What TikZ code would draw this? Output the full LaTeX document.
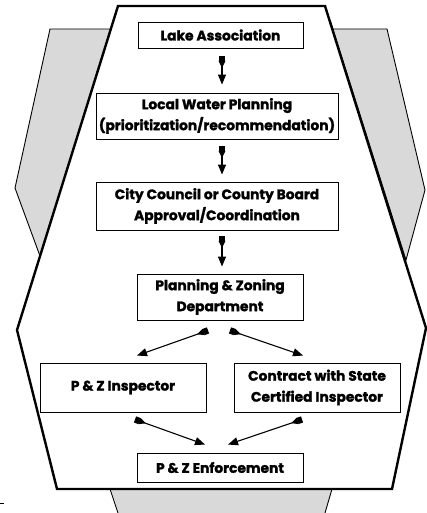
\documentclass[tikz,border=0pt]{standalone}
\usepackage{fontspec}
\newfontfamily\boxfont{Poppins}[BoldFeatures={FakeBold=1.6}]
\usetikzlibrary{arrows.meta}

\begin{document}
\begin{tikzpicture}[x=1pt,y=-1pt,
  stepbox/.style={draw,line width=0.9pt,fill=white,align=center,inner sep=0pt,
    font=\boxfont\bfseries\fontsize{13.8}{21}\selectfont},
  flow/.style={line width=1.1pt,
    arrows={Square[length=4.5pt,width=6.5pt]Stealth[reversed,length=7pt,width=6.5pt,inset=0pt]-Triangle[length=10pt,width=8pt]}}]
\useasboundingbox (0,0) rectangle (427,513);

\draw[fill=gray!30,line width=0.9pt] (50,29) -- (112,29) -- (40,256) -- (15,188) -- cycle;
\draw[fill=gray!30,line width=0.9pt] (333,29) -- (387,29) -- (425,190) -- (406,260) -- (330,20) -- cycle;
\fill[gray!30] (110,489) -- (332,489) -- (325,513) -- (118,513) -- cycle;
\draw[line width=0.9pt] (110,489) -- (118,513);
\draw[line width=0.9pt] (332,489) -- (325,513);
\draw[line width=0.9pt] (0,503) -- (4,503);

\draw[fill=white,line width=2.4pt,line join=miter]
  (118,6) -- (325,6) -- (426,328) -- (392,489) -- (57,489) -- (17,330) -- cycle;

\node[stepbox,minimum width=165pt,minimum height=26pt] (lake) at (220.5,35) {Lake Association};
\node[stepbox,minimum width=242pt,minimum height=46pt] (lwp) at (217,116)
  {Local Water Planning\\(prioritization/recommendation)};
\node[stepbox,minimum width=242pt,minimum height=48pt] (council) at (217,206)
  {City Council or County Board\\Approval/Coordination};
\node[stepbox,minimum width=166pt,minimum height=46pt] (pz) at (220,297)
  {Planning \& Zoning\\Department};
\node[stepbox,minimum width=166pt,minimum height=49pt] (insp) at (123,387.5) {P \& Z Inspector};
\node[stepbox,minimum width=166pt,minimum height=49pt] (contract) at (317,387.5)
  {Contract with State\\Certified Inspector};
\node[stepbox,minimum width=166pt,minimum height=29pt] (enf) at (220,467.5) {P \& Z Enforcement};

\draw[flow] ([xshift=1.5pt,yshift=-8pt]lake.south) -- ([xshift=5pt,yshift=8pt]lwp.north);
\draw[flow] ([xshift=5pt,yshift=-7pt]lwp.south) -- ([xshift=5pt,yshift=7pt]council.north);
\draw[flow] ([xshift=5pt,yshift=-6pt]council.south) -- ([xshift=2pt,yshift=7pt]pz.north);
\draw[flow] ([xshift=-12pt,yshift=-10pt]pz.south) -- ([xshift=14pt,yshift=7pt]insp.north);
\draw[flow] ([xshift=10pt,yshift=-10pt]pz.south) -- ([xshift=-14pt,yshift=7pt]contract.north);
\draw[flow] ([xshift=12pt,yshift=-7pt]insp.south) -- ([xshift=-15pt,yshift=8pt]enf.north);
\draw[flow] ([xshift=-15pt,yshift=-7pt]contract.south) -- ([xshift=8pt,yshift=8pt]enf.north);
\end{tikzpicture}
\end{document}
